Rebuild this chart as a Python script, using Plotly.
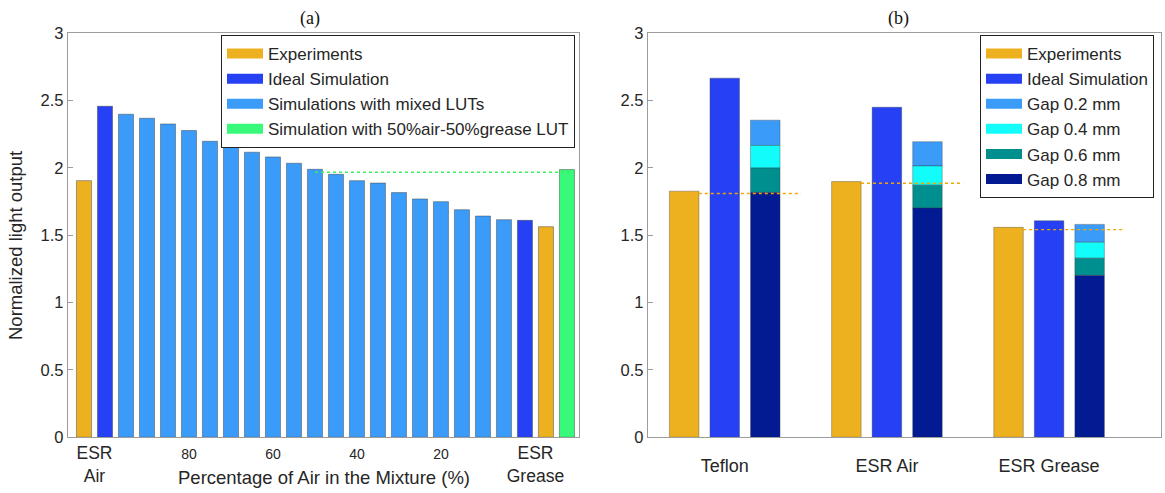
import plotly.graph_objects as go

# ---------------- data: panel (a) ----------------
esr_air_exp = 1.906
esr_air_ideal = 2.458
mix_air_pct = [95, 90, 85, 80, 75, 70, 65, 60, 55, 50, 45, 40, 35, 30, 25, 20, 15, 10, 5]
mix_values = [2.399, 2.369, 2.327, 2.278, 2.198, 2.176, 2.117, 2.082, 2.035, 1.990,
              1.953, 1.906, 1.888, 1.817, 1.770, 1.750, 1.690, 1.643, 1.616]
esr_grease_ideal = 1.611
esr_grease_exp = 1.564
lut_5050_value = 1.988
lut_5050_level = 1.968
pct_tick_labels = [80, 60, 40, 20]

# ---------------- data: panel (b) ----------------
reflectors = ["Teflon", "ESR Air", "ESR Grease"]
exp_values = [1.828, 1.899, 1.559]
ideal_values = [2.667, 2.451, 1.608]
gap_labels = ["Gap 0.2 mm", "Gap 0.4 mm", "Gap 0.6 mm", "Gap 0.8 mm"]
gap_values = {
    "Gap 0.2 mm": [2.355, 2.195, 1.581],
    "Gap 0.4 mm": [2.167, 2.015, 1.448],
    "Gap 0.6 mm": [2.000, 1.872, 1.330],
    "Gap 0.8 mm": [1.818, 1.702, 1.202],
}
exp_levels = [1.810, 1.887, 1.542]

# ---------------- styling ----------------
C_EXP = "#EDB120"
C_IDEAL = "#2541F3"
C_MIX = "#3B9BF9"
C_LUT = "#38F97A"
GAP_COLORS = {"Gap 0.2 mm": "#3B9BF9", "Gap 0.4 mm": "#12FCFC",
              "Gap 0.6 mm": "#008F8F", "Gap 0.8 mm": "#021A92"}
EDGE = "rgba(60,60,60,0.45)"
FRAME = "#9c9c9c"
TXT = "#262626"
SANS = "Liberation Sans, Arial, Helvetica, sans-serif"
SERIF = "Liberation Serif, Times New Roman, serif"

W, H = 1165, 493

fig = go.Figure()


def legend_swatch(name, color, legend):
    # legend-only entry drawn as a wide, thick colour band
    return go.Scatter(x=[None], y=[None], mode="lines", name=name,
                      line=dict(color=color, width=16), legend=legend,
                      hoverinfo="skip")


# ---------- panel (a): bar positions 1..N ----------
a_values = [esr_air_exp, esr_air_ideal] + mix_values + [esr_grease_ideal, esr_grease_exp, lut_5050_value]
a_colors = [C_EXP, C_IDEAL] + [C_MIX] * len(mix_values) + [C_IDEAL, C_EXP, C_LUT]
a_pos = list(range(1, len(a_values) + 1))
bw_a = 0.716

groups_a = [
    ("Experiments", C_EXP),
    ("Ideal Simulation", C_IDEAL),
    ("Simulations with mixed LUTs", C_MIX),
    ("Simulation with 50%air-50%grease LUT", C_LUT),
]
for name, col in groups_a:
    xs = [p for p, c in zip(a_pos, a_colors) if c == col]
    ys = [v for v, c in zip(a_values, a_colors) if c == col]
    fig.add_trace(go.Bar(
        x=xs, y=ys, width=bw_a, name=name, marker_color=col,
        marker_line=dict(color=EDGE, width=1), showlegend=False,
        xaxis="x", yaxis="y",
    ))
    fig.add_trace(legend_swatch(name, col, "legend"))

mix_pos = {p: a_pos[2 + i] for i, p in enumerate(mix_air_pct)}
lut_pos = a_pos[-1]
fig.add_trace(go.Scatter(
    x=[mix_pos[50], lut_pos + bw_a / 2], y=[lut_5050_level, lut_5050_level],
    mode="lines", line=dict(color="#3CEF5E", width=1.4, dash="dot"),
    showlegend=False, hoverinfo="skip", xaxis="x", yaxis="y",
))

a_tickvals = [(a_pos[0] + a_pos[1]) / 2] + [mix_pos[p] for p in pct_tick_labels] + [(a_pos[-3] + a_pos[-2]) / 2]
a_ticktext = (["ESR<br>Air"]
              + [f"<span style='font-size:14px'>{p}</span>" for p in pct_tick_labels]
              + ["ESR<br>Grease"])

# ---------- panel (b): grouped bars with stacked gap column ----------
b_pos = [i + 1 for i in range(len(reflectors))]
offs = 0.25
bw_b = 0.182

fig.add_trace(go.Bar(
    x=[p - offs for p in b_pos], y=exp_values, width=bw_b, name="Experiments",
    marker_color=C_EXP, marker_line=dict(color=EDGE, width=0.8), showlegend=False,
    xaxis="x2", yaxis="y2",
))
fig.add_trace(legend_swatch("Experiments", C_EXP, "legend2"))
fig.add_trace(go.Bar(
    x=b_pos, y=ideal_values, width=bw_b, name="Ideal Simulation",
    marker_color=C_IDEAL, marker_line=dict(color=EDGE, width=0.8), showlegend=False,
    xaxis="x2", yaxis="y2",
))
fig.add_trace(legend_swatch("Ideal Simulation", C_IDEAL, "legend2"))
# stacked segments: each gap bar spans from the next-larger gap value to its own value
for i, g in enumerate(gap_labels):
    tops = gap_values[g]
    bases = gap_values[gap_labels[i + 1]] if i + 1 < len(gap_labels) else [0] * len(tops)
    fig.add_trace(go.Bar(
        x=[p + offs for p in b_pos], y=[t - b for t, b in zip(tops, bases)], base=bases,
        width=bw_b, name=g, marker_color=GAP_COLORS[g],
        marker_line=dict(color=EDGE, width=0.8), showlegend=False,
        xaxis="x2", yaxis="y2",
    ))
    fig.add_trace(legend_swatch(g, GAP_COLORS[g], "legend2"))

for p, lev in zip(b_pos, exp_levels):
    fig.add_trace(go.Scatter(
        x=[p - 0.16, p + 0.47], y=[lev, lev], mode="lines",
        line=dict(color="#F2A600", width=1.4, dash="dot"),
        showlegend=False, hoverinfo="skip", xaxis="x2", yaxis="y2",
    ))

# ---------- axes ----------
xa_dom = [67.7 / W, 578.7 / W]
xb_dom = [647.7 / W, 1160.5 / W]
y_dom = [(H - 437.3) / H, (H - 33.3) / H]

axis_common = dict(showline=True, linecolor=FRAME, linewidth=1, mirror=True,
                   showgrid=False, zeroline=False, automargin=False)
y_common = dict(axis_common, range=[0, 3], dtick=0.5, ticks="inside", ticklen=5,
                tickcolor=FRAME, tickfont=dict(family=SANS, size=16.5, color=TXT),
                domain=y_dom)


def paper_note(text, px, py, size, family=SANS, angle=0, color=TXT):
    return dict(text=text, x=px / W, y=(H - py) / H, xref="paper", yref="paper",
                xanchor="center", yanchor="middle", textangle=angle, showarrow=False,
                font=dict(family=family, size=size, color=color))


legend_common = dict(xanchor="right", yanchor="top", bgcolor="white",
                     bordercolor="#222", borderwidth=1, tracegroupgap=0,
                     font=dict(family=SANS, size=17, color=TXT),
                     itemclick=False, itemdoubleclick=False, itemwidth=36)

fig.update_layout(
    width=W, height=H, autosize=False,
    margin=dict(l=0, r=0, t=0, b=0, autoexpand=False),
    paper_bgcolor="white", plot_bgcolor="white",
    barmode="overlay",
    font=dict(family=SANS, color=TXT),
    xaxis=dict(axis_common, domain=xa_dom, range=[0.224, 24.56], anchor="y",
               tickmode="array", tickvals=a_tickvals, ticktext=a_ticktext, ticks="",
               tickfont=dict(family=SANS, size=17.5, color=TXT), ticklabelstandoff=0),
    yaxis=dict(y_common, anchor="x"),
    xaxis2=dict(axis_common, domain=xb_dom, range=[0.525, 3.687], anchor="y2",
                tickmode="array", tickvals=b_pos, ticktext=reflectors, ticks="",
                tickfont=dict(family=SANS, size=18, color=TXT), ticklabelstandoff=12),
    yaxis2=dict(y_common, anchor="x2"),
    legend=dict(legend_common, x=575 / W, y=(H - 35) / H),
    legend2=dict(legend_common, x=1154 / W, y=(H - 35) / H),
    annotations=[
        paper_note("(a)", 310, 18, 18, SERIF, color="#111"),
        paper_note("(b)", 898, 18, 18, SERIF, color="#111"),
        paper_note("Normalized light output", 16, 246, 18.5, angle=-90),
        paper_note("Percentage of Air in the Mixture (%)", 324, 477, 18.5),
    ],
)

fig.write_html("out.html")
